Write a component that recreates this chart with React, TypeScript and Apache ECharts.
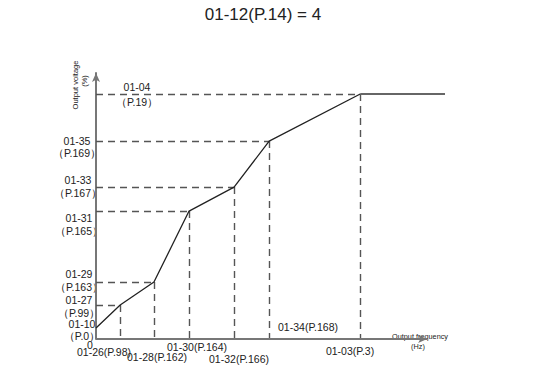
import React, { useEffect, useRef } from "react";
import * as echarts from "echarts";

// Curve break points (frequency %, voltage %)
const freqX = [0, 7.3, 17.5, 28.1, 41.7, 52.3, 79.8];
const voltY = [4.1, 12.8, 21.4, 48.1, 57.1, 74.4, 92.1];
const plateauEndX = 105.4;
const freqAxisEnd = 100;

// Parameter labels
const titleText = "01-12(P.14) = 4";
const voltLabels = [
  ["01-10", "（P.0）"],
  ["01-27", "（P.99）"],
  ["01-29", "（P.163）"],
  ["01-31", "（P.165）"],
  ["01-33", "（P.167）"],
  ["01-35", "（P.169）"],
  ["01-04", "（P.19）"],
];
const freqLabels = ["01-26(P.98)", "01-28(P.162)", "01-30(P.164)", "01-32(P.166)", "01-34(P.168)", "01-03(P.3)"];
const yAxisTitle = ["Output voltage", "(%)"];
const xAxisTitle = ["Output frequency", "(Hz)"];

// layout of annotations (pixels)
const voltLabelPos: [number, number, number][] = [
  [82, 324, 336],
  [79, 300, 313],
  [79, 274, 287],
  [79, 218, 231],
  [78, 180, 193],
  [77, 141, 153],
  [137, 87, 102],
];
const freqLabelPos: [number, number][] = [
  [104, 352],
  [157, 357],
  [197, 347],
  [239, 359],
  [308, 327],
  [350, 351],
];

const FONT = "'Liberation Sans', Arial, sans-serif";

export default function App() {
  const ref = useRef<HTMLDivElement>(null);
  useEffect(() => {
    if (!ref.current) return;
    const chart = echarts.init(ref.current, null, { renderer: "svg" });
    const curve = freqX.map((x, i) => [x, voltY[i]]);
    const last = freqX.length - 1;
    const plateau = [
      [freqX[last], voltY[last]],
      [plateauEndX, voltY[last]],
    ];
    const guides: any[] = [];
    for (let i = 1; i < freqX.length; i++) {
      guides.push([{ coord: [0, voltY[i]] }, { coord: [freqX[i], voltY[i]] }]);
      guides.push([{ coord: [freqX[i], voltY[i]] }, { coord: [freqX[i], 0] }]);
    }
    const texts: any[] = [];
    const txt = (x: number, y: number, text: string, size: number, extra: any = {}) =>
      texts.push({
        type: "text",
        x,
        y,
        ...extra,
        style: { text, font: `${size}px ${FONT}`, fill: "#222", align: "center", verticalAlign: "middle" },
      });
    txt(263, 14, titleText, 17);
    voltLabels.forEach((lbl, i) => {
      const [cx, y1, y2] = voltLabelPos[i];
      txt(cx, y1, lbl[0], 10.5);
      txt(cx, y2, lbl[1], 10.5);
    });
    freqLabels.forEach((lbl, i) => {
      const [cx, cy] = freqLabelPos[i];
      txt(cx, cy, lbl, 10.5);
    });
    txt(90, 345, "0", 10.5);
    txt(75, 85, yAxisTitle[0], 7.5, { rotation: Math.PI / 2 });
    txt(84, 81, yAxisTitle[1], 7.5, { rotation: Math.PI / 2 });
    txt(420, 336, xAxisTitle[0], 7.3);
    txt(418, 346, xAxisTitle[1], 7.3);

    chart.setOption({
      animation: false,
      backgroundColor: "#fff",
      grid: { left: 96, top: 73, width: 349, height: 266 },
      xAxis: {
        type: "value",
        min: 0,
        max: plateauEndX,
        axisLine: { show: false },
        axisTick: { show: false },
        axisLabel: { show: false },
        splitLine: { show: false },
      },
      yAxis: {
        type: "value",
        min: 0,
        max: 100,
        axisLine: {
          show: true,
          lineStyle: { color: "#777", width: 2 },
          symbol: ["none", "arrow"],
          symbolSize: [6, 9],
        },
        axisTick: { show: false },
        axisLabel: { show: false },
        splitLine: { show: false },
      },
      series: [
        {
          type: "line",
          data: curve,
          symbol: "none",
          z: 5,
          lineStyle: { color: "#222", width: 1.3 },
          markLine: {
            silent: true,
            symbol: ["none", "none"],
            label: { show: false },
            lineStyle: { color: "#555", width: 1.4, type: [7, 5] },
            data: guides,
          },
        },
        {
          type: "line",
          data: plateau,
          symbol: "none",
          z: 5,
          lineStyle: { color: "#666", width: 2 },
          markLine: {
            silent: true,
            symbol: ["none", "arrow"],
            symbolSize: [6, 9],
            label: { show: false },
            lineStyle: { color: "#777", width: 2, type: "solid" },
            data: [[{ coord: [0, 0] }, { coord: [freqAxisEnd, 0] }]],
          },
        },
      ],
      graphic: texts,
    });
    return () => chart.dispose();
  }, []);
  return <div ref={ref} style={{ position: "fixed", left: 0, top: 0, width: 533, height: 374 }} />;
}
